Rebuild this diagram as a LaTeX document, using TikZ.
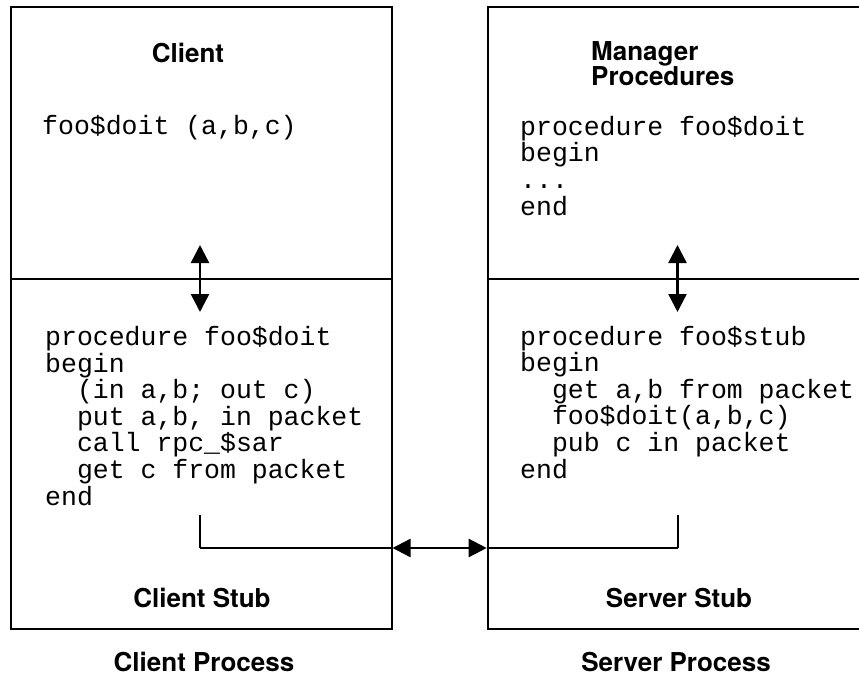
\documentclass[tikz,border=0pt]{standalone}
\usepackage{fontspec}
\setsansfont{TeX Gyre Heros}
\setmonofont{Liberation Mono}
\usepackage{tikz}
\usetikzlibrary{arrows.meta, positioning}
\newcommand{\tabin}{\hspace*{1.2em}}

\begin{document}
\begin{tikzpicture}[x=1pt, y=-1pt,
  compart/.style={draw, line width=2pt, rectangle, inner sep=0pt, anchor=north west},
  title/.style={font=\sffamily\bfseries\fontsize{26}{23}\selectfont, inner sep=0pt, anchor=base},
  code/.style={font=\ttfamily\fontsize{26.5}{26.6}\selectfont, align=left, inner sep=0pt, anchor=base west},
  link/.style={line width=2.4pt},
  dbl/.style={line width=2.4pt, {Triangle[length=18pt,width=18pt]}-{Triangle[length=18pt,width=18pt]}}]
\useasboundingbox (0,0) rectangle (859,679);
% client process
\node[compart, minimum width=381pt, minimum height=272pt] (client) at (9.5,6) {};
\node[compart, minimum width=381pt, minimum height=350pt] (cstub) at (9.5,278) {};
% server process
\node[compart, minimum width=380pt, minimum height=272pt] (server) at (486.7,6) {};
\node[compart, minimum width=380pt, minimum height=350pt] (sstub) at (486.7,278) {};
% texts (multi-line nodes sit on their last baseline)
\node[title] (clientlbl) at (188,63) {Client};
\node[title, align=left, anchor=base west] (mgrlbl) at (591,86) {Manager\\Procedures};
\node[code] (call) at (42,135) {foo\$doit (a,b,c)};
\node[code] (mgrcode) at (520,215) {procedure foo\$doit\\begin\\...\\end};
\node[code] (ccode) at (45,505) {procedure foo\$doit\\begin\\\tabin(in a,b; out c)\\\tabin put a,b, in packet\\\tabin call rpc\_\$sar\\\tabin get c from packet\\end};
\node[code] (scode) at (520,478) {procedure foo\$stub\\begin\\\tabin get a,b from packet\\\tabin foo\$doit(a,b,c)\\\tabin pub c in packet\\end};
\node[title] (cstublbl) at (202,607) {Client Stub};
\node[title] (sstublbl) at (679,607) {Server Stub};
\node[title] (cproc) at (204,671) {Client Process};
\node[title] (sproc) at (676,671) {Server Process};
% up/down arrows across the dividers
\coordinate (cup) at (200,245);
\coordinate (cdown) at (200,312);
\coordinate (sup) at (677.5,245);
\coordinate (sdown) at (677.5,312);
\draw[dbl] (cup) -- (cdown);
\draw[dbl] (sup) -- (sdown);
% packet exchange
\coordinate (ctick) at (199.5,515);
\coordinate (cjoin) at (199.5,548);
\coordinate (stick) at (678,515);
\coordinate (sjoin) at (678,548);
\draw[line width=2pt] (ctick) -- (cjoin);
\draw[line width=2pt] (stick) -- (sjoin);
\draw[link] (cjoin) -- (cstub.east |- cjoin);
\draw[link] (sstub.west |- sjoin) -- (sjoin);
\draw[dbl] (cstub.east |- cjoin) -- (sstub.west |- sjoin);
\end{tikzpicture}
\end{document}
